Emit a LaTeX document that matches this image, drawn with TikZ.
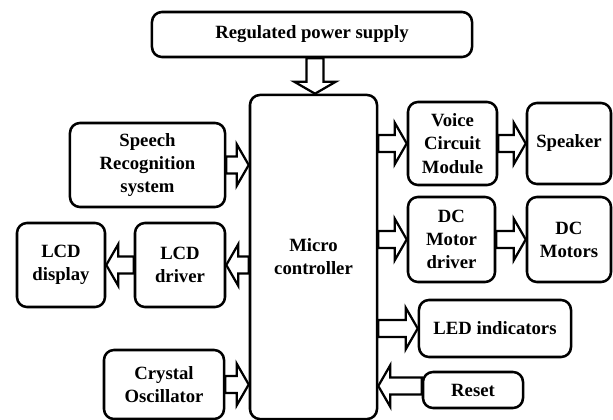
\documentclass[tikz,border=0pt]{standalone}
\usepackage{fontspec}
\setmainfont{Liberation Serif}
\usepackage{tikz}
\usetikzlibrary{calc}

\begin{document}
\begin{tikzpicture}[x=0.025cm,y=-0.025cm,line join=miter,
  blk/.style={draw,line width=1.8pt,rounded corners=0.25cm,fill=white,align=center,
    font=\fontsize{13.3}{16.5}\selectfont\bfseries,inner sep=1pt},
  fat/.style={draw,line width=1.6pt,fill=white,
    to path={let \p1=(\tikztostart),\p2=(\tikztotarget),\n1={atan2(\y2-\y1,\x2-\x1)} in
      -- ($(\p1)+(\n1+90:0.21cm)$)
      -- ($(\p2)+(\n1+180:0.3cm)+(\n1+90:0.21cm)$)
      -- ($(\p2)+(\n1+180:0.3cm)+(\n1+90:0.52cm)$)
      -- (\p2)
      -- ($(\p2)+(\n1+180:0.3cm)+(\n1-90:0.52cm)$)
      -- ($(\p2)+(\n1+180:0.3cm)+(\n1-90:0.21cm)$)
      -- ($(\p1)+(\n1-90:0.21cm)$) -- cycle}}]
\useasboundingbox (0,0) rectangle (613,420);
%% blocks
\node[blk,minimum width=8cm,minimum height=1.125cm] (pwr) at (312,34.5) {Regulated power supply};
\node[blk,minimum width=3.175cm,minimum height=8.1cm] (mc) at (313.5,257) {Micro\\controller};
\node[blk,minimum width=3.875cm,minimum height=2.1cm] (sr) at (147.5,165) {Speech\\Recognition\\system};
\node[blk,minimum width=2.225cm,minimum height=2.075cm] (vcm) at (452.5,143.5) {Voice\\Circuit\\Module};
\node[blk,minimum width=2.1cm,minimum height=2.025cm] (spk) at (569,143.5) {Speaker};
\node[blk,minimum width=2.175cm,minimum height=2.125cm] (dcd) at (451.5,239.5) {DC\\Motor\\driver};
\node[blk,minimum width=2.1cm,minimum height=2.125cm] (dcm) at (569,239.5) {DC\\Motors};
\node[blk,minimum width=3.8cm,minimum height=1.425cm] (led) at (495,328.5) {LED indicators};
\node[blk,minimum width=2.5cm,minimum height=0.9cm] (rst) at (473,390) {Reset};
\node[blk,minimum width=2.25cm,minimum height=2.1cm] (lcdd) at (180,265) {LCD\\driver};
\node[blk,minimum width=2.2cm,minimum height=2.1cm] (lcd) at (61,265) {LCD\\display};
\node[blk,minimum width=3cm,minimum height=1.725cm] (xtal) at (164,384.5) {Crystal\\Oscillator};
%% block arrows
\draw[fat] ([xshift=0.075cm]pwr.south) to ([xshift=0.075cm]pwr.south |- mc.north);
\draw[fat] (sr.east) to (sr.east -| mc.west);
\draw[fat] (mc.east |- vcm.west) to (vcm.west);
\draw[fat] (vcm.east) to (spk.west);
\draw[fat] (mc.east |- dcd.west) to (dcd.west);
\draw[fat] (dcd.east) to (dcm.west);
\draw[fat] (mc.east |- led.west) to (led.west);
\draw[fat] ([yshift=0.1cm]rst.west) to ([yshift=0.1cm]rst.west -| mc.east);
\draw[fat] (mc.west |- lcdd.east) to (lcdd.east);
\draw[fat] (lcdd.west) to (lcd.east);
\draw[fat] (xtal.east) to (xtal.east -| mc.west);
\end{tikzpicture}
\end{document}
